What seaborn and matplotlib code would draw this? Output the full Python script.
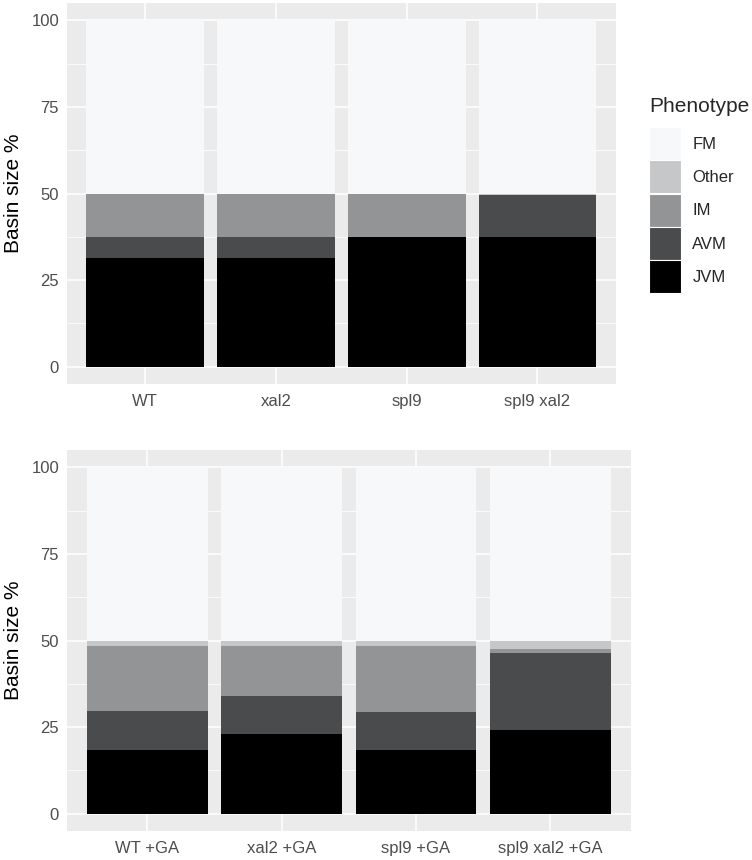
import pandas as pd
import matplotlib.pyplot as plt
from matplotlib.patches import Patch
import seaborn as sns

PHENOTYPES = ["FM", "Other", "IM", "AVM", "JVM"]
COLORS = ["#F7F8FA", "#C6C7C8", "#939495", "#4A4B4D", "#000000"]

# panel 1: no GA
TOP_GENOTYPES = ["WT", "xal2", "spl9", "spl9 xal2"]
TOP_FM = [50, 50, 50, 50]
TOP_OTHER = [0, 0, 0, 0.3]
TOP_IM = [12.5, 12.5, 12.5, 0]
TOP_AVM = [6.25, 6.25, 0, 12.2]
TOP_JVM = [31.25, 31.25, 37.5, 37.5]

# panel 2: +GA
GA_GENOTYPES = ["WT +GA", "xal2 +GA", "spl9 +GA", "spl9 xal2 +GA"]
GA_FM = [50, 50, 50, 50]
GA_OTHER = [1.5, 1.6, 1.7, 2.4]
GA_IM = [18.9, 14.5, 18.8, 1.2]
GA_AVM = [11.1, 10.9, 11.0, 22.1]
GA_JVM = [18.5, 23.0, 18.5, 24.3]

Y_TICKS = [0, 25, 50, 75, 100]
Y_MINOR = [12.5, 37.5, 62.5, 87.5]

sns.set_theme(style="darkgrid")
plt.rcParams["font.family"] = ["Liberation Sans", "DejaVu Sans"]


def to_long(genotypes, fm, other, im, avm, jvm):
    rows = []
    for pheno, vals in zip(PHENOTYPES, [fm, other, im, avm, jvm]):
        for g, v in zip(genotypes, vals):
            rows.append({"genotype": g, "phenotype": pheno, "pct": v})
    df = pd.DataFrame(rows)
    df["genotype"] = pd.Categorical(df["genotype"], categories=genotypes, ordered=True)
    return df


def draw_panel(ax, df, genotypes):
    ax.set_facecolor("#EBEBEB")
    ax.set_axisbelow(True)
    sns.histplot(
        data=df, x="genotype", weights="pct", hue="phenotype",
        hue_order=PHENOTYPES, palette=COLORS, multiple="stack",
        discrete=True, shrink=0.9, alpha=1, linewidth=0,
        legend=False, ax=ax,
    )
    ax.set_xlim(-0.6, len(genotypes) - 0.4)
    ax.set_ylim(-5, 105)
    ax.set_xticks(range(len(genotypes)))
    ax.set_xticklabels(genotypes)
    ax.set_yticks(Y_TICKS)
    ax.set_yticks(Y_MINOR, minor=True)
    ax.grid(True, which="major", color="white", linewidth=1.1)
    ax.grid(True, which="minor", axis="y", color="white", linewidth=0.55)
    ax.tick_params(which="major", direction="out", length=2.5, width=0.9,
                   color="#333333", labelcolor="#4D4D4D", labelsize=12, pad=3)
    ax.tick_params(axis="x", pad=4.5)
    ax.tick_params(which="minor", length=0)
    for s in ax.spines.values():
        s.set_visible(False)
    ax.set_xlabel("")
    ax.set_ylabel("Basin size %", fontsize=15, color="black", labelpad=6)


fig = plt.figure(figsize=(7.52, 8.6), dpi=100)
ax1 = fig.add_axes([0.0887, 0.5535, 0.819 - 0.0887, 0.9965 - 0.5535])
ax2 = fig.add_axes([0.0887, 0.0337, 0.839 - 0.0887, 0.4767 - 0.0337])

draw_panel(ax1, to_long(TOP_GENOTYPES, TOP_FM, TOP_OTHER, TOP_IM, TOP_AVM, TOP_JVM), TOP_GENOTYPES)
draw_panel(ax2, to_long(GA_GENOTYPES, GA_FM, GA_OTHER, GA_IM, GA_AVM, GA_JVM), GA_GENOTYPES)

# legend: title as separate text so the gap above the keys matches
fig.text(649 / 752, 1 - 106 / 860, "Phenotype", fontsize=15, va="center", ha="left")
handles = [Patch(facecolor=c, edgecolor="white", linewidth=0.8) for c in COLORS]
leg = fig.legend(
    handles, PHENOTYPES, loc="upper left",
    bbox_to_anchor=(649 / 752, 1 - 127 / 860), frameon=False,
    fontsize=12, handlelength=1.9, handleheight=2.67,
    labelspacing=0.02, handletextpad=0.7, borderaxespad=0, borderpad=0,
)

fig.savefig("out.png", dpi=100)
